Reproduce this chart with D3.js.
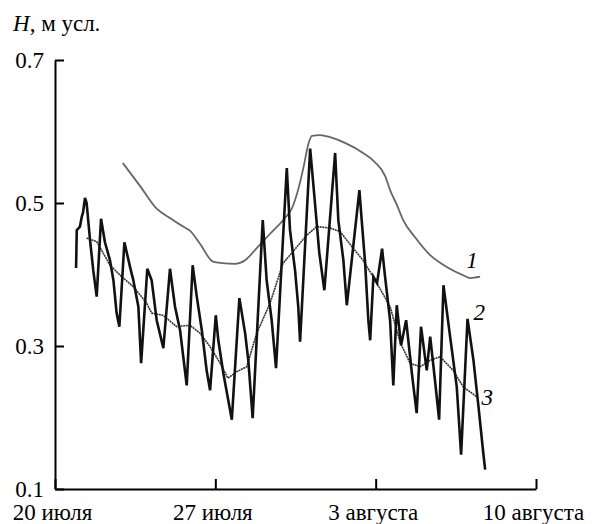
<!DOCTYPE html>
<html><head><meta charset="utf-8">
<script src="https://cdn.jsdelivr.net/npm/d3@7"></script>
<style>html,body{margin:0;padding:0;background:#fff;}</style>
</head><body>
<svg id="c" width="594" height="524"></svg>
<script>
// x values are days counted from 1 July (20 = 20 July, 34 = 3 August, 41 = 10 August)
const xTickValues = [20, 27, 34, 41];
const xTickLabels = ["20 июля", "27 июля", "3 августа", "10 августа"];
const yTickValues = [0.1, 0.3, 0.5, 0.7];
const yTickLabels = ["0.1", "0.3", "0.5", "0.7"];

// Curve 1 (grey, upper)
const s1Day = [22.96,23.71,24.44,25.02,25.59,25.90,26.33,26.90,27.29,27.86,28.30,28.81,29.39,30.04,30.35,30.61,30.87,31.05,31.22,31.57,32.01,32.66,33.45,33.97,34.41,34.63,34.93,35.20,35.72,36.38,37.03,37.82,38.12,38.56];
const s1Val = [0.556,0.524,0.492,0.479,0.467,0.461,0.443,0.418,0.416,0.415,0.420,0.437,0.457,0.479,0.493,0.518,0.553,0.581,0.594,0.595,0.592,0.584,0.570,0.557,0.538,0.518,0.497,0.476,0.452,0.427,0.412,0.399,0.395,0.397];

// Curve 2 (black, tidal oscillation)
const s2Day = [20.92,20.95,21.09,21.17,21.22,21.31,21.38,21.53,21.67,21.82,22.01,22.18,22.40,22.55,22.69,22.81,23.03,23.28,23.42,23.64,23.76,24.03,24.22,24.44,24.73,25.02,25.24,25.46,25.60,25.75,26.01,26.19,26.41,26.62,26.77,27.02,27.13,27.35,27.72,28.05,28.30,28.44,28.63,29.07,29.24,29.46,29.65,30.12,30.26,30.48,30.62,30.70,31.14,31.35,31.54,31.76,32.23,32.37,32.59,32.74,33.29,33.39,33.54,33.68,33.76,33.90,34.06,34.28,34.41,34.63,34.77,34.92,35.11,35.33,35.58,35.79,35.98,36.23,36.38,36.59,36.77,36.96,37.25,37.54,37.73,38.01,38.27,38.49,38.70,38.78];
const s2Val = [0.409,0.462,0.467,0.481,0.486,0.507,0.500,0.448,0.406,0.369,0.478,0.445,0.420,0.392,0.346,0.327,0.445,0.410,0.392,0.355,0.276,0.408,0.392,0.336,0.297,0.408,0.355,0.322,0.285,0.245,0.413,0.369,0.322,0.266,0.238,0.343,0.308,0.262,0.197,0.367,0.318,0.280,0.199,0.476,0.392,0.336,0.269,0.549,0.462,0.406,0.355,0.306,0.576,0.500,0.430,0.378,0.570,0.476,0.420,0.357,0.518,0.476,0.416,0.336,0.308,0.397,0.388,0.436,0.397,0.336,0.245,0.357,0.301,0.336,0.262,0.206,0.327,0.266,0.313,0.252,0.197,0.385,0.313,0.243,0.148,0.338,0.280,0.215,0.150,0.127];

// Curve 3 (smoothed)
const s3Day = [21.38,21.82,22.40,22.91,23.42,24.00,24.22,24.72,25.31,25.90,26.33,26.77,27.21,27.55,27.93,28.37,28.81,29.39,29.96,30.39,30.99,31.43,32.01,32.45,33.01,33.45,34.05,34.63,35.07,35.50,35.94,36.38,36.81,37.38,37.82,38.41];
const s3Val = [0.451,0.446,0.413,0.397,0.383,0.360,0.346,0.343,0.327,0.329,0.318,0.299,0.276,0.255,0.264,0.271,0.318,0.360,0.416,0.432,0.455,0.467,0.465,0.460,0.437,0.420,0.388,0.355,0.305,0.276,0.271,0.280,0.285,0.266,0.243,0.229];

const curveLabels = ["1", "2", "3"];
const curveLabelPos = [[37.95, 0.409], [38.27, 0.336], [38.62, 0.2175]];

const svg = d3.select("#c");
const TXT = "font-family:Liberation Serif;font-size:23px;fill:#000";
const x = d3.scaleLinear().domain([20, 41]).range([55, 536]);
const y = d3.scaleLinear().domain([0.1, 0.7]).range([489, 60]);

const line = d3.line().x(d => x(d[0])).y(d => y(d[1]));

svg.append("path").datum(d3.zip(s1Day, s1Val)).attr("d", line.curve(d3.curveMonotoneX))
  .attr("fill", "none").attr("stroke", "#666").attr("stroke-width", 1.8).attr("stroke-linejoin", "round");
svg.append("path").datum(d3.zip(s3Day, s3Val)).attr("d", line.curve(d3.curveLinear))
  .attr("fill", "none").attr("stroke", "#333").attr("stroke-width", 1.6).attr("stroke-dasharray", "2,0.6").attr("stroke-linejoin", "round");
svg.append("path").datum(d3.zip(s2Day, s2Val)).attr("d", line.curve(d3.curveLinear))
  .attr("fill", "none").attr("stroke", "#111").attr("stroke-width", 2.6).attr("stroke-linejoin", "miter");

// axes
const yAxis = d3.axisLeft(y).tickValues(yTickValues)
  .tickFormat((d, i) => yTickLabels[i]).tickSize(-9).tickSizeOuter(0).tickPadding(11);
const gy = svg.append("g").attr("transform", "translate(55,0)").call(yAxis);
gy.attr("font-family", null).attr("font-size", null);
gy.selectAll("text").attr("style", TXT).attr("dy", "0.34em");
gy.selectAll("line,path").attr("stroke", "#000").attr("stroke-width", 2);

const xAxis = d3.axisBottom(x).tickValues(xTickValues)
  .tickFormat((d, i) => xTickLabels[i]).tickSize(-10).tickSizeOuter(0).tickPadding(15);
const gx = svg.append("g").attr("transform", "translate(0,489)").call(xAxis);
gx.attr("font-family", null).attr("font-size", null);
gx.selectAll("text").attr("style", TXT).attr("dx", "-3");
gx.selectAll("line,path").attr("stroke", "#000").attr("stroke-width", 2);

// axis title
const t = svg.append("text").attr("x", 13).attr("y", 31).attr("style", TXT);
t.append("tspan").attr("style", "font-style:italic").text("H");
t.append("tspan").text(", м усл.");

// curve labels
svg.selectAll("text.cl").data(curveLabels).enter().append("text").attr("class", "cl")
  .attr("x", (d, i) => x(curveLabelPos[i][0])).attr("y", (d, i) => y(curveLabelPos[i][1]))
  .attr("style", TXT + ";font-style:italic")
  .text(d => d);
</script>
</body></html>
